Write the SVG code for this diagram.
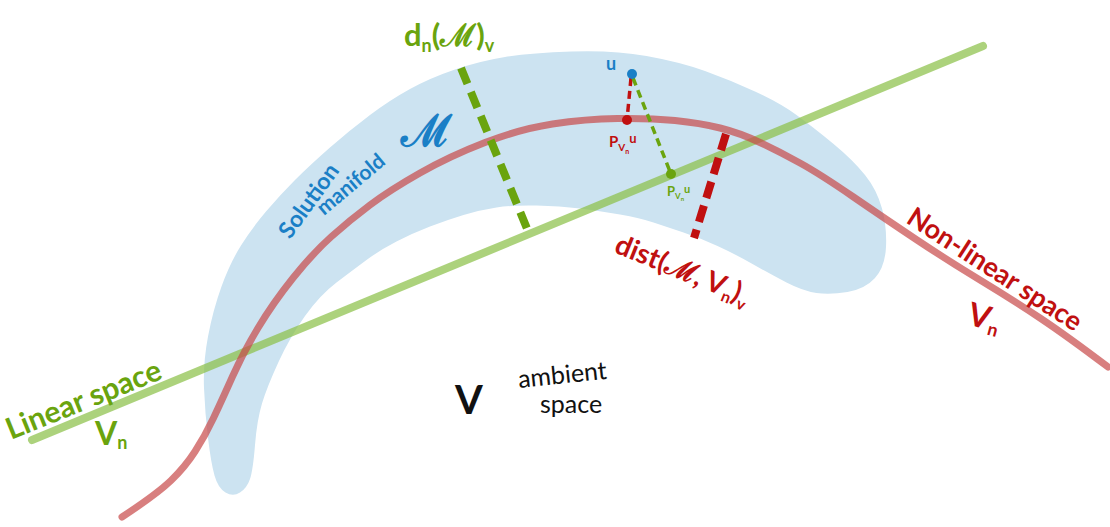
<svg xmlns="http://www.w3.org/2000/svg" width="1110" height="527" viewBox="0 0 1110 527">
<style>
.t{font-family:"Lato","Liberation Sans",sans-serif;font-weight:bold}
.thin{font-weight:normal}
.green{fill:#6aa40e}
.red{fill:#c01010}
.blue{fill:#1a7fc6}
.black{fill:#111}
</style>
<rect width="1110" height="527" fill="#fff"/>
<g id="manifold">
<path d="M255,445 Q253,470 250,479 Q247,488 240,492.5 Q233,497 225.5,492.5 Q218,488 214.5,475.5 Q211,463 208,438 Q205,413 204,388 Q203,363 208,336.5 Q213,310 221.5,286.5 Q230,263 241,245.5 Q252,228 266,211.5 Q280,195 295,180 Q310,165 330,147.5 Q350,130 370,115 Q390,100 410,89 Q430,78 455,69.5 Q480,61 505,57 Q530,53 571.5,51.5 Q613,50 646.5,56 Q680,62 705,71 Q730,80 755,91.5 Q780,103 796.5,115 Q813,127 833,143.5 Q853,160 865,175 Q877,190 882,208.5 Q887,227 886,247 Q885,267 875,278 Q865,289 847.5,292 Q830,295 816.5,293 Q803,291 786.5,282.5 Q770,274 752.5,264 Q735,254 717.5,246 Q700,238 683.5,232.5 Q667,227 653.5,222.5 Q640,218 620,214.5 Q600,211 580,208.5 Q560,206 536.5,205.5 Q513,205 496.5,207.5 Q480,210 463.5,215 Q447,220 430,226.5 Q413,233 396.5,241.5 Q380,250 366.5,260 Q353,270 336.5,282.5 Q320,295 305,316 Q290,337 278.5,362 Q267,387 262,403.5 Q257,420 255,445 Z" fill="#cce3f1"/>
</g>
<g id="connectors">
<line id="linear-space-line" x1="32" y1="440" x2="983" y2="46" stroke="#8cc04a" stroke-opacity="0.72" stroke-width="8" stroke-linecap="round"/>
<path id="nonlinear-space-curve" d="M122,517 Q157,494 171,480.5 Q185,467 195,451.5 Q205,436 213.5,418 Q222,400 232.5,376.5 Q243,353 258,328 Q273,303 293,278 Q313,253 331.5,236.5 Q350,220 370,205 Q390,190 420,173 Q450,156 485,142.5 Q520,129 552.5,124 Q585,119 617.5,118.5 Q650,118 675,120.5 Q700,123 720,128 Q740,133 760,142.5 Q780,152 800,163 Q820,174 853.5,197 Q887,220 917,240 Q947,260 980,280 Q1013,300 1040,318 Q1067,336 1108,367" fill="none" stroke="#c84848" stroke-opacity="0.7" stroke-width="7" stroke-linecap="round"/>
<line id="dn-dash" x1="461" y1="68" x2="528" y2="231" stroke="#6aa40e" stroke-width="8" stroke-dasharray="17 9"/>
<line id="dist-dash" x1="726" y1="134" x2="694" y2="238" stroke="#c01010" stroke-width="8" stroke-dasharray="17 8"/>
<line id="proj-red" x1="631" y1="78" x2="627" y2="120" stroke="#c01010" stroke-width="3.5" stroke-dasharray="8 5"/>
<line id="proj-green" x1="633" y1="78" x2="671" y2="174" stroke="#6aa40e" stroke-width="3.5" stroke-dasharray="8 5"/>
</g>
<g id="point-u"><circle cx="632" cy="74" r="5" fill="#1a7fc6"/><text class="t blue" x="606" y="70" font-size="18">u</text></g>
<g id="point-pvn-u"><circle cx="627" cy="120" r="5" fill="#c01010"/><text class="t red" x="609" y="147" font-size="15">P<tspan dy="4" font-size="10">V</tspan><tspan dy="3" font-size="7">n</tspan><tspan dy="-11" font-size="13">u</tspan></text></g>
<g id="point-pvn-green"><circle cx="671" cy="174" r="5" fill="#6aa40e"/><text class="t green" x="667" y="196" font-size="13">P<tspan dy="3" font-size="8">V</tspan><tspan dy="2" font-size="6">n</tspan><tspan dy="-8" font-size="11">u</tspan></text></g>
<g id="label-dn"><text class="t green" x="404" y="46" font-size="31">d<tspan dy="6" font-size="18">n</tspan><tspan dy="-6">(ℳ)</tspan><tspan dy="6" font-size="18">v</tspan></text></g>
<g id="label-manifold">
<text class="t blue" font-size="23" transform="translate(290,240) rotate(-54)">Solution</text>
<text class="t blue" font-size="21" transform="translate(324,216) rotate(-40)">manifold</text>
<text class="t blue" font-size="44" x="401" y="146">ℳ</text>
</g>
<g id="label-dist"><text class="t red" font-size="28" transform="translate(613,252) rotate(22)">dist(ℳ, V<tspan dy="5" font-size="16">n</tspan><tspan dy="-5">)</tspan><tspan dy="6" font-size="16">v</tspan></text></g>
<g id="label-nonlinear">
<text class="t red" font-size="27" transform="translate(905,222) rotate(33)">Non-linear space</text>
<text class="t red" font-size="32" transform="translate(966,324) rotate(15)">V<tspan dy="5" font-size="18">n</tspan></text>
</g>
<g id="label-linear">
<text class="t green" font-size="30" transform="translate(11,440) rotate(-22)">Linear space</text>
<text class="t green" font-size="32" x="95" y="445">V<tspan dy="4" font-size="18">n</tspan></text>
</g>
<g id="label-ambient">
<text class="t black" font-size="40" x="455" y="414">V</text>
<text class="t black thin" font-size="25" transform="translate(519,388) rotate(-6)">ambient</text>
<text class="t black thin" font-size="25" x="540" y="413">space</text>
</g>
</svg>
